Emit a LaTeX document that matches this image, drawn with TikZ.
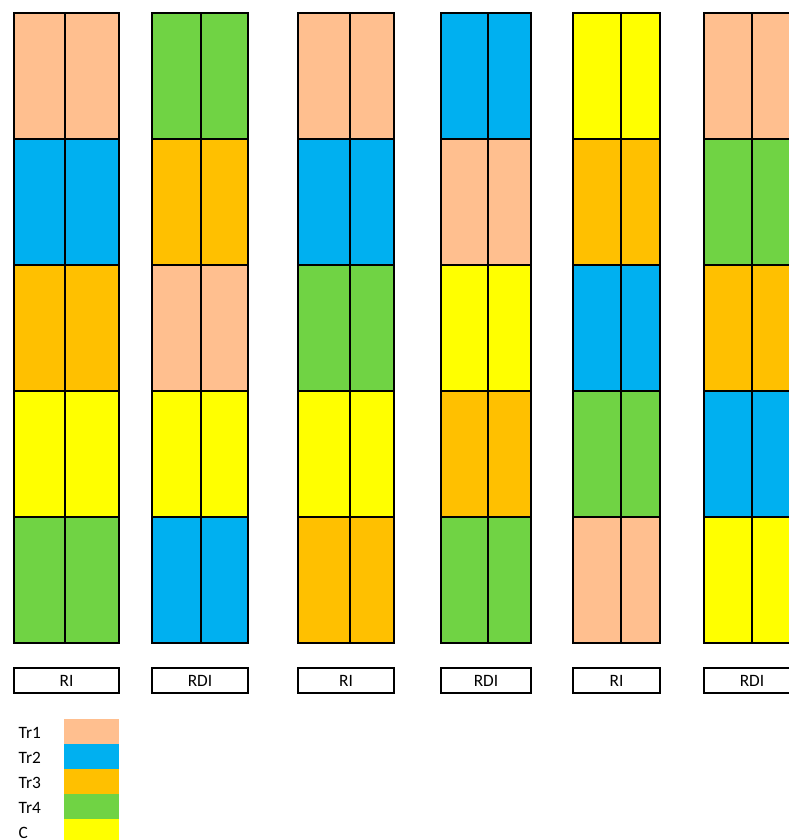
\documentclass[tikz,border=0pt]{standalone}
\usepackage{fontspec}
\setmainfont{Carlito}
\usepackage{tikz}

\definecolor{trone}{HTML}{FFBF8F}
\definecolor{trtwo}{HTML}{00B0F0}
\definecolor{trthree}{HTML}{FFC000}
\definecolor{trfour}{HTML}{70D344}
\definecolor{ctrl}{HTML}{FFFF00}

\tikzset{
  cell/.style={draw=black, line width=1.4pt},
  tag/.style={draw=black, line width=1.4pt, font=\fontsize{13}{15}\selectfont,
    inner sep=0pt, text depth=0pt, minimum height=25*0.75pt},
  key/.style={anchor=west, font=\fontsize{13}{15}\selectfont}
}

\begin{document}
\begin{tikzpicture}[x=0.75pt, y=-0.75pt]
  \useasboundingbox (0,0) rectangle (789,840);

  % columns: left, middle, right, colours from top to bottom
  \foreach \l/\m/\r/\ca/\cb/\cc/\cd/\ce in {
      14/65/119/trone/trtwo/trthree/ctrl/trfour,
      152/201/248/trfour/trthree/trone/ctrl/trtwo,
      298/350/394/trone/trtwo/trfour/ctrl/trthree,
      441/488/531/trtwo/trone/ctrl/trthree/trfour,
      573/621/660/ctrl/trthree/trtwo/trfour/trone,
      704/752/800/trone/trfour/trthree/trtwo/ctrl} {
    \foreach \c [count=\i from 0] in {\ca,\cb,\cc,\cd,\ce} {
      \pgfmathsetmacro{\top}{13+126*\i}
      \pgfmathsetmacro{\bot}{139+126*\i}
      \draw[cell, fill=\c] (\l,\top) rectangle (\m,\bot);
      \draw[cell, fill=\c] (\m,\top) rectangle (\r,\bot);
    }
  }

  % labels under the columns
  \node[tag, minimum width=105*0.75pt] (lab1) at (66.5,680.5) {RI};
  \node[tag, minimum width=96*0.75pt] (lab2) at (200,680.5) {RDI};
  \node[tag, minimum width=96*0.75pt] (lab3) at (346,680.5) {RI};
  \node[tag, minimum width=90*0.75pt] (lab4) at (486,680.5) {RDI};
  \node[tag, minimum width=87*0.75pt] (lab5) at (616.5,680.5) {RI};
  \node[tag, minimum width=96*0.75pt] (lab6) at (752,680.5) {RDI};

  % legend
  \fill[trone]   (64,719) rectangle (119,744);
  \fill[trtwo]   (64,744) rectangle (119,769);
  \fill[trthree] (64,769) rectangle (119,794);
  \fill[trfour]  (64,794) rectangle (119,819);
  \fill[ctrl]    (64,819) rectangle (119,844);
  \node[key] (k1) at (14,733) {Tr1};
  \node[key] (k2) at (14,758) {Tr2};
  \node[key] (k3) at (14,783) {Tr3};
  \node[key] (k4) at (14,808) {Tr4};
  \node[key] (k5) at (14,833) {C};
\end{tikzpicture}
\end{document}
